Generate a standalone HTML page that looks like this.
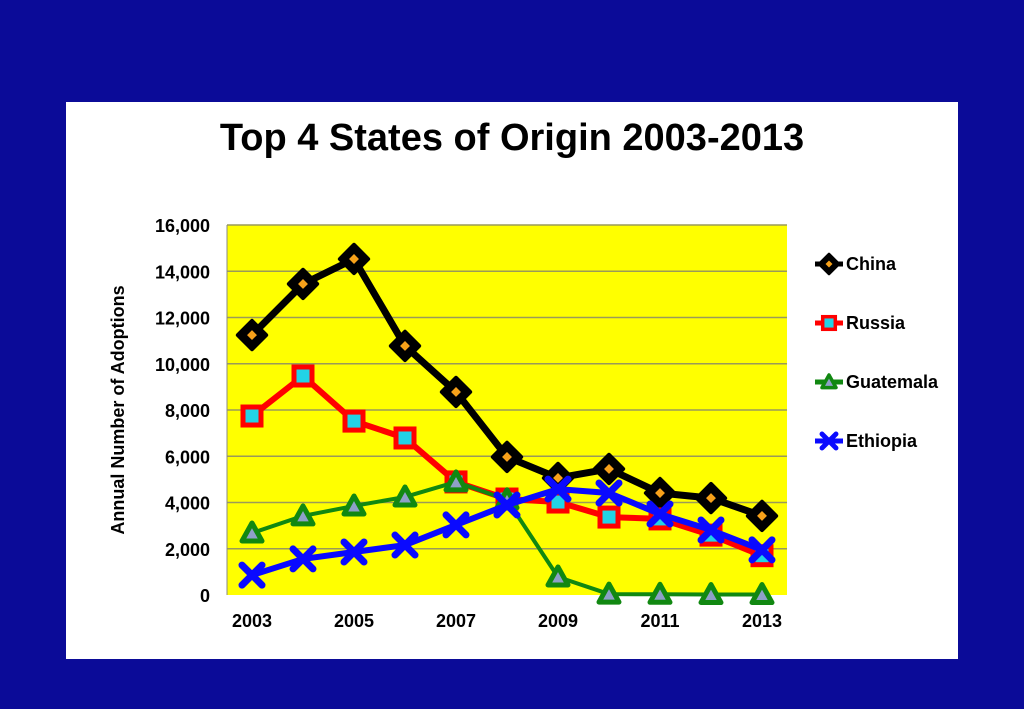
<!DOCTYPE html>
<html><head><meta charset="utf-8"><style>
html,body{margin:0;padding:0;background:#0b0b98;width:1024px;height:709px;overflow:hidden}
svg{display:block;font-family:"Liberation Sans",Arial,sans-serif}
</style></head><body>
<svg id="chart" width="1024" height="709">
<rect x="0" y="0" width="1024" height="709" fill="#0b0b98"/>
<rect x="66" y="102" width="892" height="557" fill="#ffffff"/>
<text x="512" y="150" text-anchor="middle" font-size="38" font-weight="bold" fill="#000">Top 4 States of Origin 2003-2013</text>
<rect x="227" y="225" width="560" height="370" fill="#ffff00"/>
<g id="grid"></g>
<g id="series"></g>
<g id="axes"></g>
<text transform="translate(124,410) rotate(-90)" text-anchor="middle" font-size="18" font-weight="bold" fill="#000">Annual Number of Adoptions</text>
<g id="legend"></g>
</svg>
<script>
const years = [2003,2004,2005,2006,2007,2008,2009,2010,2011,2012,2013];
const chinaValues = [11240,13450,14530,10770,8780,5970,5060,5450,4410,4190,3420];
const russiaValues = [7740,9470,7520,6790,4890,4150,4020,3370,3290,2590,1700];
const guatemalaValues = [2680,3420,3850,4240,4890,4120,780,40,30,20,20];
const ethiopiaValues = [860,1560,1860,2160,3030,3890,4580,4410,3500,2810,1950];
const yTicks = [0,2000,4000,6000,8000,10000,12000,14000,16000];
const xTickLabels = ["2003","2005","2007","2009","2011","2013"];
const seriesNames = ["China","Russia","Guatemala","Ethiopia"];

const NS="http://www.w3.org/2000/svg";
const L=227,R=787,T=225,B=595,YMAX=16000;
function xs(i){return 252+i*(762-252)/(years.length-1);}
function ys(v){return B-(v/YMAX)*(B-T);}
function mk(tag,attrs,parent){const e=document.createElementNS(NS,tag);for(const k in attrs)e.setAttribute(k,attrs[k]);parent.appendChild(e);return e;}
const grid=document.getElementById('grid'),axes=document.getElementById('axes'),ser=document.getElementById('series'),leg=document.getElementById('legend');
yTicks.forEach(t=>{
  const y=ys(t);
  if(t>0){const g=mk('line',{x1:L,x2:R,y1:y,y2:y,stroke:'#9a9a5a','stroke-width':1.5},grid);
  
  }
  const tx=mk('text',{x:210,y:y+7,'text-anchor':'end','font-size':18,'font-weight':'bold',fill:'#000'},axes);
  tx.textContent=t.toLocaleString('en-US');
  
  
});
const ax=mk('line',{x1:L,x2:L,y1:T,y2:B,stroke:'#888','stroke-width':1},axes);


xTickLabels.forEach(lbl=>{
  const i=years.indexOf(+lbl);
  const tx=mk('text',{x:xs(i),y:627,'text-anchor':'middle','font-size':18,'font-weight':'bold',fill:'#000'},axes);
  tx.textContent=lbl;
  
  
});
function marker(kind,x,y,parent){
  const g=mk('g',{},parent);
  if(kind==='China'){
    mk('rect',{x:x-10,y:y-10,width:20,height:20,fill:'#000',stroke:'#000','stroke-width':4,'stroke-linejoin':'round',transform:`rotate(45 ${x} ${y})`},g);
    mk('rect',{x:x-3.5,y:y-3.5,width:7,height:7,fill:'#f7a11a',transform:`rotate(45 ${x} ${y})`},g);
  }else if(kind==='Russia'){
    mk('rect',{x:x-9,y:y-9,width:18,height:18,fill:'#22d3e6',stroke:'#ff0000','stroke-width':5},g);
  }else if(kind==='Guatemala'){
    mk('polygon',{points:`${x},${y-10} ${x+10},${y+8} ${x-10},${y+8}`,fill:'#8ea0c8',stroke:'#118811','stroke-width':5,'stroke-linejoin':'round'},g);
  }else{
    mk('path',{d:`M${x-10},${y-10}L${x+10},${y+10}M${x+10},${y-10}L${x-10},${y+10}`,stroke:'#0a0aff','stroke-width':7,'stroke-linecap':'round'},g);
  }
  return g;
}
const defs=[["China",chinaValues,'#000'],["Russia",russiaValues,'#ff0000'],["Guatemala",guatemalaValues,'#118811'],["Ethiopia",ethiopiaValues,'#0a0aff']];
defs.forEach(([name,vals,col],si)=>{
  const g=mk('g',{},ser);
  
  
  const pts=vals.map((v,i)=>xs(i)+','+ys(v)).join(' ');
  const pl=mk('polyline',{points:pts,fill:'none',stroke:col,'stroke-width':name==='China'?7:name==='Guatemala'?4:6,'stroke-linejoin':'round'},g);
  
  
  vals.forEach((v,i)=>{const m=marker(name,xs(i),ys(v),g);
    
    });
  const ly=264+si*59;
  const lg=mk('g',{},leg);
  
  
  mk('line',{x1:815,x2:843,y1:ly,y2:ly,stroke:col,'stroke-width':5},lg);
  marker(name,829,ly,lg).setAttribute('transform',`translate(${829*0.3},${ly*0.3}) scale(0.7)`);
  const t=mk('text',{x:846,y:ly+6,'font-size':18,'font-weight':'bold',fill:'#000'},lg);
  t.textContent=name;
});
</script>
</body></html>
